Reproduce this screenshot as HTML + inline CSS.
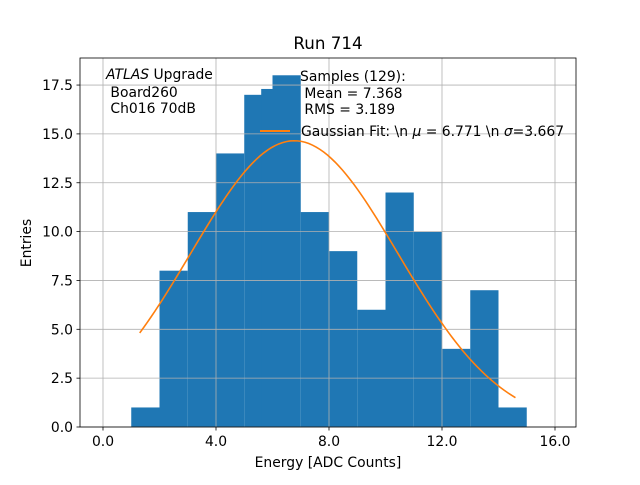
<!DOCTYPE html>
<html><head><meta charset="utf-8"><style>
body{margin:0;background:#fff}
svg text{font-family:"DejaVu Sans","Liberation Sans",sans-serif;fill:#000}
</style></head><body>
<svg width="640" height="480" viewBox="0 0 640 480">
<rect width="640" height="480" fill="#fff"/>
<g id="bars"></g>
<g id="grid"></g>
<g id="gauss"></g>
<rect x="80" y="58" width="496" height="369" fill="none" stroke="#000" stroke-width="0.8"/>
<g id="ticks"></g>
<text x="328" y="49" font-size="16.7" text-anchor="middle">Run 714</text>
<text x="328" y="467" font-size="13.9" text-anchor="middle">Energy [ADC Counts]</text>
<text x="31" y="243" font-size="13.9" text-anchor="middle" transform="rotate(-90 31 243)">Entries</text>
<g font-size="13.9">
<text x="106" y="79"><tspan font-style="italic">ATLAS</tspan> Upgrade</text>
<text x="106" y="97" xml:space="preserve"> Board260</text>
<text x="106" y="113" xml:space="preserve"> Ch016 70dB</text>
</g>
<g font-size="13.9">
<text x="300" y="81">Samples (129):</text>
<text x="300" y="98" xml:space="preserve"> Mean = 7.368</text>
<text x="300" y="114" xml:space="preserve"> RMS = 3.189</text>
<line x1="260" y1="131" x2="290" y2="131" stroke="#ff7f0e" stroke-width="2"/>
<text x="301" y="136">Gaussian Fit: \n <tspan font-style="italic">μ</tspan> = 6.771 \n <tspan font-style="italic">σ</tspan>=3.667</text>
</g>
</svg>
<script>
const binLefts=[1,2,3,4,5,5.6,6,7,8,9,10,11,12,13,14];
const binWidth=1;
const counts=[1,8,11,14,17,17.3,18,11,9,6,12,10,4,7,1];
const xTicks=[0,4,8,12,16];
const xTickLabels=["0.0","4.0","8.0","12.0","16.0"];
const yTicks=[0,2.5,5,7.5,10,12.5,15,17.5];
const yTickLabels=["0.0","2.5","5.0","7.5","10.0","12.5","15.0","17.5"];
const fitAmp=14.65, fitMu=6.771, fitSigma=3.667, fitStart=1.3, fitEnd=14.6;
const NS="http://www.w3.org/2000/svg";
const X=v=>103+v*28.25, Y=v=>427-v*19.54;
function mk(t,a,p){const e=document.createElementNS(NS,t);for(const k in a)e.setAttribute(k,a[k]);p.appendChild(e);return e;}
const grid=document.getElementById('grid'),bars=document.getElementById('bars'),ticks=document.getElementById('ticks'),gauss=document.getElementById('gauss');
xTicks.forEach((v,i)=>{
 const g=mk('line',{x1:X(v),x2:X(v),y1:58,y2:427,stroke:'#b0b0b0','stroke-width':0.8},grid);
 
 
 mk('line',{x1:X(v),x2:X(v),y1:427,y2:430.5,stroke:'#000','stroke-width':0.8},ticks);
 const t=mk('text',{x:X(v),y:446,'font-size':13.9,'text-anchor':'middle'},ticks);t.textContent=xTickLabels[i];
 
 
});
yTicks.forEach((v,i)=>{
 const g=mk('line',{x1:80,x2:576,y1:Y(v),y2:Y(v),stroke:'#b0b0b0','stroke-width':0.8},grid);
 
 
 mk('line',{x1:76.5,x2:80,y1:Y(v),y2:Y(v),stroke:'#000','stroke-width':0.8},ticks);
 const t=mk('text',{x:73,y:Y(v)+5,'font-size':13.9,'text-anchor':'end'},ticks);t.textContent=yTickLabels[i];
 
 
});
binLefts.forEach((l,i)=>{
 const r=mk('rect',{x:X(l),y:Y(counts[i]),width:X(l+binWidth)-X(l),height:Y(0)-Y(counts[i]),fill:'#1f77b4'},bars);
 
 
});
let d='';
for(let k=0;k<=100;k++){const x=fitStart+(fitEnd-fitStart)*k/100;const y=fitAmp*Math.exp(-((x-fitMu)**2)/(2*fitSigma*fitSigma));d+=(k?'L':'M')+X(x).toFixed(2)+','+Y(y).toFixed(2);}
const p=mk('path',{d:d,fill:'none',stroke:'#ff7f0e','stroke-width':1.6},gauss);


</script>
</body></html>
